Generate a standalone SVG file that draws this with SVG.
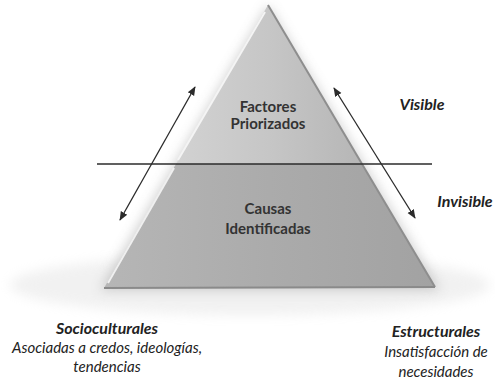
<svg xmlns="http://www.w3.org/2000/svg" width="495" height="381" viewBox="0 0 495 381">
<defs>
  <linearGradient id="gTop" x1="0" y1="0" x2="1" y2="0">
    <stop offset="0" stop-color="#d2d2d2"/>
    <stop offset="0.5" stop-color="#c6c6c6"/>
    <stop offset="1" stop-color="#b6b6b6"/>
  </linearGradient>
  <linearGradient id="gBot" x1="0" y1="0" x2="1" y2="0">
    <stop offset="0" stop-color="#b6b6b6"/>
    <stop offset="0.5" stop-color="#ababab"/>
    <stop offset="1" stop-color="#a2a2a2"/>
  </linearGradient>
  <filter id="shadow" x="-20%" y="-20%" width="140%" height="140%">
    <feGaussianBlur stdDeviation="6"/>
  </filter>
  <marker id="ah" viewBox="0 0 10 10" refX="9" refY="5" markerWidth="7" markerHeight="7" orient="auto-start-reverse">
    <path d="M0,1 L10,5 L0,9 z" fill="#2b2b2b"/>
  </marker>
  <style>
    .lbl{font-family:Lato,"Open Sans","Liberation Sans",sans-serif;font-weight:bold;fill:#333;font-size:15px;text-anchor:middle}
    .it{font-family:Lato,"Open Sans","Liberation Sans",sans-serif;font-style:italic;fill:#222;font-size:15px;text-anchor:middle}
    .itb{font-weight:bold;font-size:16px}
    .conn{stroke:#2b2b2b;stroke-width:1.3;fill:none}
  </style>
</defs>
<rect width="495" height="381" fill="#ffffff"/>
<g id="background" opacity="0.35">
  <ellipse cx="250" cy="285" rx="240" ry="30" fill="#d8d8d8" filter="url(#shadow)"/>
</g>
<g id="pyramid-shadow">
  <path d="M268,5 L440,290 L100,290 Z" fill="#9a9a9a" opacity="0.45" filter="url(#shadow)"/>
</g>
<g id="factores-priorizados">
  <path d="M268,5 L362,164 L176,164 Z" fill="url(#gTop)"/>
  <path d="M268,5 L362,164" stroke="#8e8e8e" stroke-width="2" fill="none"/>
  <path d="M265,12 L178,160" stroke="#f4f4f4" stroke-width="2" fill="none"/>
  <text class="lbl" x="268" y="112">Factores</text>
  <text class="lbl" x="268" y="129">Priorizados</text>
</g>
<g id="causas-identificadas">
  <path d="M176,164 L362,164 L435,287 L104,288 Z" fill="url(#gBot)"/>
  <path d="M362,164 L435,287" stroke="#8e8e8e" stroke-width="2" fill="none"/>
  <path d="M104,288 L435,287" stroke="#8a8a8a" stroke-width="2" fill="none"/>
  <path d="M174,168 L108,283" stroke="#efefef" stroke-width="2" fill="none"/>
  <text class="lbl" x="268" y="214">Causas</text>
  <text class="lbl" x="268" y="234">Identificadas</text>
</g>
<g id="connectors">
  <line class="conn" x1="97" y1="164" x2="432" y2="164" stroke-width="1.6"/>
  <line class="conn" x1="195" y1="87" x2="120" y2="220" marker-start="url(#ah)" marker-end="url(#ah)"/>
  <line class="conn" x1="334" y1="88" x2="415" y2="218" marker-start="url(#ah)" marker-end="url(#ah)"/>
</g>
<g id="visible">
  <text class="it itb" x="422" y="110">Visible</text>
</g>
<g id="invisible">
  <text class="it itb" x="465" y="207">Invisible</text>
</g>
<g id="socioculturales">
  <text class="it itb" x="107" y="334">Socioculturales</text>
  <text class="it" x="107" y="353">Asociadas a credos, ideologías,</text>
  <text class="it" x="107" y="372">tendencias</text>
</g>
<g id="estructurales">
  <text class="it itb" x="436" y="337">Estructurales</text>
  <text class="it" x="436" y="357">Insatisfacción de</text>
  <text class="it" x="436" y="377">necesidades</text>
</g>
</svg>
